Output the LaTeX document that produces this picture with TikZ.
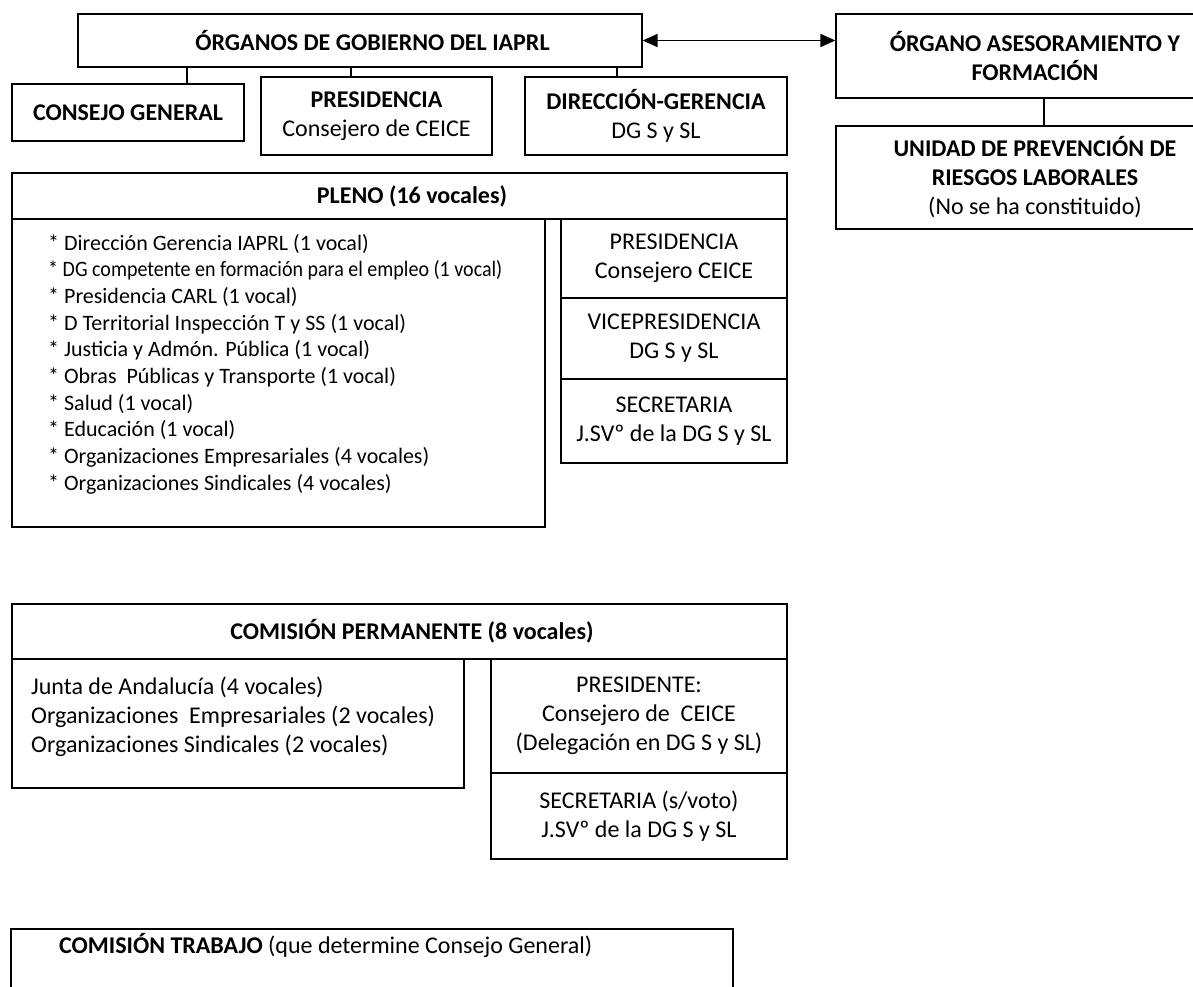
\documentclass[tikz,border=0pt]{standalone}
\usepackage{fontspec}
\setmainfont{Carlito}
\usetikzlibrary{arrows.meta}

\begin{document}
\begin{tikzpicture}[x=1pt,y=-1pt]
\tikzstyle{caja}=[draw, rectangle, line width=1.3pt, inner sep=0pt, align=center, font=\fontsize{24}{29}\selectfont]
\tikzstyle{cabecera}=[caja, execute at begin node=\hspace*{25pt}]
\tikzstyle{linea}=[inner sep=0pt, anchor=base west, font=\fontsize{24}{29}\selectfont]
\tikzstyle{item}=[inner sep=0pt, anchor=base west, font=\fontsize{22}{26}\selectfont]
\tikzstyle{enlace}=[line width=1.3pt]
\path[use as bounding box, clip] (0,0) rectangle (1193,986);

% organos de gobierno
\node[cabecera, minimum width=564, minimum height=53] (gob) at (360,40.5) {\textbf{ÓRGANOS DE GOBIERNO DEL IAPRL}};
\node[caja, minimum width=232, minimum height=57] (cgen) at (128,112.5) {\textbf{CONSEJO GENERAL}};
\node[caja, minimum width=231, minimum height=78] (pres) at (376.5,116) {\textbf{PRESIDENCIA}\\Consejero de CEICE};
\node[caja, minimum width=262, minimum height=78] (dir) at (656,116) {\textbf{DIRECCIÓN-GERENCIA}\\DG S y SL};
\node[caja, minimum width=398, minimum height=84] (ases) at (1035,56) {\textbf{ÓRGANO ASESORAMIENTO Y}\\\textbf{FORMACIÓN}};
\node[caja, minimum width=398, minimum height=103] (upr) at (1035,177.5) {\textbf{UNIDAD DE PREVENCIÓN DE}\\\textbf{RIESGOS LABORALES}\\(No se ha constituido)};

\coordinate (t1) at (187,0);
\coordinate (t2) at (351,0);
\coordinate (t3) at (617,0);
\coordinate (t4) at (1044,0);
\draw[enlace] (gob.south -| t1) -- (cgen.north -| t1);
\draw[enlace] (gob.south -| t2) -- (pres.north -| t2);
\draw[enlace] (gob.south -| t3) -- (dir.north -| t3);
\draw[enlace] (ases.south -| t4) -- (upr.north -| t4);
\draw[line width=1.8pt, {Triangle[length=15pt,width=13pt]}-{Triangle[length=15pt,width=13pt]}] (gob.east) -- (gob.east -| ases.west);

% pleno
\node[cabecera, minimum width=775, minimum height=46] (pleno) at (399.5,196) {\textbf{PLENO (16 vocales)}};
\node[caja, minimum width=533, minimum height=308] (plbody) at (278.5,373) {};
\node[caja, minimum width=226, minimum height=79] (ppres) at (674,258.5) {PRESIDENCIA\\Consejero CEICE};
\node[caja, minimum width=226, minimum height=81] (pvice) at (674,338.5) {VICEPRESIDENCIA\\DG S y SL};
\node[caja, minimum width=226, minimum height=84] (psec) at (674,421) {SECRETARIA\\J.SVº de la DG S y SL};
\foreach \t [count=\i from 0] in {* Dirección Gerencia IAPRL (1 vocal),
  \scalebox{0.91}[1]{* DG competente en formación para el empleo (1 vocal)},
  * Presidencia CARL (1 vocal),
  * D Territorial Inspección T y SS (1 vocal),
  * Justicia y Admón. Pública (1 vocal),
  * Obras \ Públicas y Transporte (1 vocal),
  * Salud (1 vocal),
  * Educación (1 vocal),
  * Organizaciones Empresariales (4 vocales),
  * Organizaciones Sindicales (4 vocales)}
  \node[item] (voc\i) at (48,250+26.67*\i) {\t};

% comision permanente
\node[cabecera, minimum width=775, minimum height=55] (cperm) at (399.5,631.5) {\textbf{COMISIÓN PERMANENTE (8 vocales)}};
\node[caja, minimum width=452, minimum height=129] (cpbody) at (238,723.5) {};
\node[caja, minimum width=296, minimum height=114] (cppres) at (639,716) {PRESIDENTE:\\Consejero de \ CEICE\\(Delegación en DG S y SL)};
\node[caja, minimum width=296, minimum height=86] (cpsec) at (639,816) {SECRETARIA (s/voto)\\J.SVº de la DG S y SL};
\foreach \t [count=\i from 0] in {Junta de Andalucía (4 vocales),
  Organizaciones \ Empresariales (2 vocales),
  Organizaciones Sindicales (2 vocales)}
  \node[linea] (cpv\i) at (31,694+29*\i) {\t};

% comision trabajo
\node[caja, minimum width=722, minimum height=120] (trab) at (372,989) {};
\node[linea] (trabtxt) at (59,953) {\textbf{COMISIÓN TRABAJO} (que determine Consejo General)};
\end{tikzpicture}
\end{document}
